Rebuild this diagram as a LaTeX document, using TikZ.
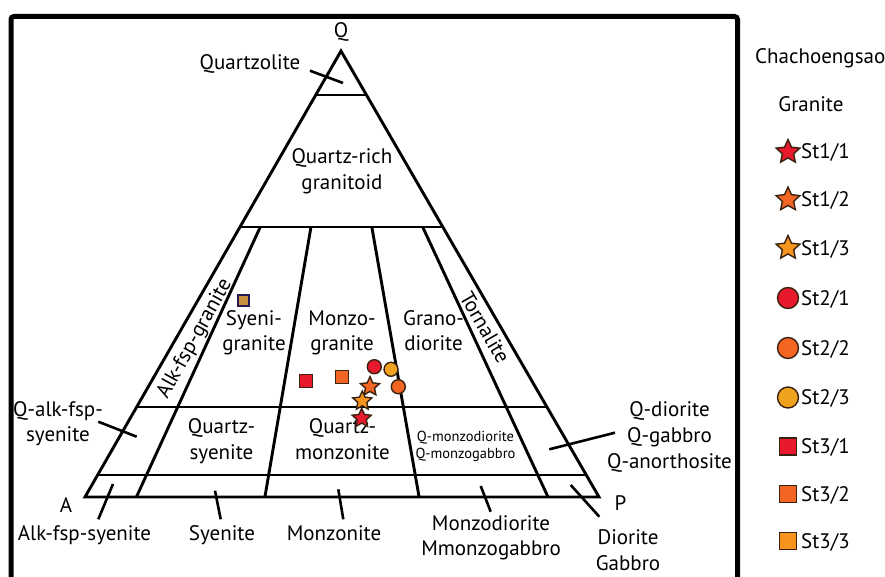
\documentclass[tikz,border=0pt]{standalone}
\usepackage{fontspec}
\setmainfont{PT Sans}
\usetikzlibrary{shapes.geometric,calc}

\definecolor{mkRed}{HTML}{E8192C}
\definecolor{mkOrange}{HTML}{F26522}
\definecolor{mkAmber}{HTML}{F7941D}
\definecolor{mkGold}{HTML}{EFA21E}
\definecolor{mkTan}{HTML}{C9913F}
\definecolor{mkEdge}{HTML}{3A2210}

\tikzset{
  field/.style={line width=2.9pt, line join=miter},
  leader/.style={line width=2.6pt},
  frameline/.style={line width=5pt, rounded corners=3pt},
  lbl/.style={font=\fontsize{21}{25.5}\selectfont, inner sep=0pt, anchor=base, align=center},
  sml/.style={font=\fontsize{14.5}{16.7}\selectfont, inner sep=0pt, anchor=base, align=center},
  keytext/.style={lbl, anchor=base west},
  mk/.style={draw=mkEdge, line width=1.4pt, inner sep=0pt},
  mkstar/.style={mk, star, star points=5, star point ratio=2.1, minimum size=#1},
  mkdot/.style={mk, circle, minimum size=#1},
  mksq/.style={mk, rectangle, minimum size=#1},
}

\begin{document}
\begin{tikzpicture}[x=1pt,y=-1pt]
\useasboundingbox (0,0) rectangle (885,577);
\fill[white] (0,0) rectangle (885,577);

% outer frame (runs off the bottom edge)
\begin{scope}
  \clip (0,0) rectangle (885,577);
  \draw[frameline] (11,16.5) rectangle (737.5,640);
\end{scope}

% QAP triangle
\coordinate (A) at (85,497);
\coordinate (P) at (599,497);
\coordinate (Q) at (341,51);
\draw[field] (A) -- (Q) -- (P) -- cycle;

% horizontal Q-levels: 90, 60, 20, 5
\foreach \t/\nm in {0.9013/q90, 0.6054/q60, 0.2018/q20, 0.0493/q5}{
  \draw[field] ($(A)!\t!(Q)$) coordinate (\nm l) -- ($(P)!\t!(Q)$) coordinate (\nm r);
}

% radial P/(A+P) divisions: 10, 35, 65, 90
\foreach \f/\nm in {0.10/r10, 0.35/r35, 0.65/r65, 0.9008/r90}{
  \coordinate (\nm b) at ($(A)!\f!(P)$);
  \draw[field] (\nm b) -- ($(\nm b)!0.6054!(Q)$);
}

% field names (multi-line nodes sit on the baseline of their last line)
\node[lbl] (qlab) at (341,38) {Q};
\node[lbl] (alab) at (66,512.7) {A};
\node[lbl] (plab) at (620.5,510.7) {P};
\node[lbl] (quartzolite) at (250,70) {Quartzolite};
\node[lbl] (qrich) at (342,189.5) {Quartz-rich\\granitoid};
\node[lbl, rotate=61, anchor=center] (afgr) at (195,339) {Alk-fsp-granite};
\node[lbl] (syenogr) at (254,350.5) {Syeni-\\granite};
\node[lbl] (monzogr) at (342,350.5) {Monzo-\\granite};
\node[lbl] (granod) at (433.5,350.5) {Grano-\\diorite};
\node[lbl, rotate=-60, anchor=center] (tonal) at (485,327.5) {Tornalite};
\node[lbl] (qsy) at (221.5,459) {Quartz-\\syenite};
\node[lbl] (qmz) at (342.5,459) {Quartz-\\monzonite};
\node[sml] (qmd) at (465.5,458.3) {Q-monzodiorite\\Q-monzogabbro};
\node[lbl] (qafs) at (58,441.7) {Q-alk-fsp-\\syenite};
\node[lbl] (afs) at (84.5,540.7) {Alk-fsp-syenite};
\node[lbl] (sy) at (222,540.7) {Syenite};
\node[lbl] (mz) at (334,540.7) {Monzonite};
\node[lbl] (md) at (491,555.5) {Monzodiorite\\Mmonzogabbro};
\node[lbl] (dio) at (628,570) {Diorite\\Gabbro};
\node[lbl, font=\fontsize{21}{26}\selectfont] (qdio) at (669.5,468.3) {Q-diorite\\Q-gabbro\\Q-anorthosite};

% leader ticks
\coordinate (t1a) at (310,70.7);   \coordinate (t1b) at (343,83);
\coordinate (t2a) at (98.3,421.7); \coordinate (t2b) at (136.7,436.7);
\coordinate (t3a) at (113,484);    \coordinate (t3b) at (98.3,519.3);
\coordinate (t4a) at (215,490.7);  \coordinate (t4b) at (220.7,519.3);
\coordinate (t5a) at (338.3,489.3);\coordinate (t5b) at (343.3,519.3);
\coordinate (t6a) at (480.7,486);  \coordinate (t6b) at (490.7,511.7);
\coordinate (t7a) at (570.7,485);  \coordinate (t7b) at (599.3,516.7);
\coordinate (t8a) at (549.3,449.3);\coordinate (t8b) at (615,432.7);
\foreach \k in {1,...,8}{ \draw[leader] (t\k a) -- (t\k b); }

% samples
\node[mksq=11, fill=mkTan, draw=mkEdge!70!blue] (s33) at (243.5,300.5) {};
\node[mksq=13, fill=mkRed] (s31) at (305.7,380.7) {};
\node[mksq=13, fill=mkOrange] (s32) at (341.7,376.7) {};
\node[mkdot=14, fill=mkRed] (s21) at (374.3,366.7) {};
\node[mkdot=14, fill=mkGold] (s23) at (391,369.3) {};
\node[mkdot=14, fill=mkOrange] (s22) at (398.3,386.7) {};
\node[mkstar=20, fill=mkOrange] (s12) at (370,386.7) {};
\node[mkstar=20, fill=mkAmber] (s13) at (362.3,401) {};
\node[mkstar=20, fill=mkRed] (s11) at (361.7,418.3) {};

% legend
\node[lbl, anchor=base west] (title) at (755,63.3) {Chachoengsao};
\node[lbl] (gran) at (811,111.7) {Granite};

\node[mkstar=25, fill=mkRed]    (key1) at (788,152)   {};
\node[mkstar=25, fill=mkOrange] (key2) at (788,199.5) {};
\node[mkstar=25, fill=mkAmber]  (key3) at (788,248)   {};
\node[mkdot=21, fill=mkRed]     (key4) at (788,298)   {};
\node[mkdot=21, fill=mkOrange]  (key5) at (788,348)   {};
\node[mkdot=21, fill=mkGold]    (key6) at (788,397.5) {};
\node[mksq=17, fill=mkRed]      (key7) at (788,446.5) {};
\node[mksq=17, fill=mkOrange]   (key8) at (788,494)   {};
\node[mksq=17, fill=mkAmber]    (key9) at (788,541)   {};

\node[keytext] (keytxt1) at (801,159)   {St1/1};
\node[keytext] (keytxt2) at (801,206.5) {St1/2};
\node[keytext] (keytxt3) at (801,255)   {St1/3};
\node[keytext] (keytxt4) at (801,305)   {St2/1};
\node[keytext] (keytxt5) at (801,355)   {St2/2};
\node[keytext] (keytxt6) at (801,404.5) {St2/3};
\node[keytext] (keytxt7) at (801,453.5) {St3/1};
\node[keytext] (keytxt8) at (801,501)   {St3/2};
\node[keytext] (keytxt9) at (801,548)   {St3/3};
\end{tikzpicture}
\end{document}
